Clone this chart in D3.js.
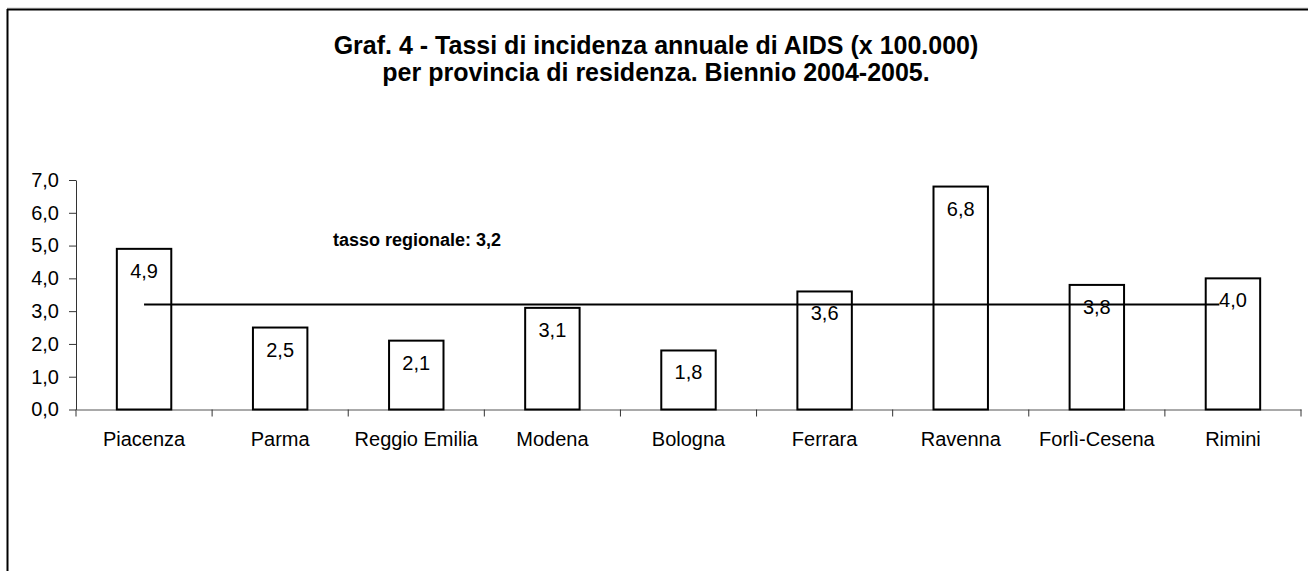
<!DOCTYPE html>
<html>
<head>
<meta charset="utf-8">
<script src="https://cdn.jsdelivr.net/npm/d3@7"></script>
<style>
  body { margin: 0; background: #fff; }
  svg { display: block; font-family: "Liberation Sans", Arial, sans-serif; }
</style>
</head>
<body>
<svg id="chart" width="1308" height="571"></svg>
<script>
// dati
var province = ["Piacenza", "Parma", "Reggio Emilia", "Modena", "Bologna", "Ferrara", "Ravenna", "Forlì-Cesena", "Rimini"];
var tassi = [4.9, 2.5, 2.1, 3.1, 1.8, 3.6, 6.8, 3.8, 4.0];
var tassoRegionale = 3.2;
var yTicks = [0, 1, 2, 3, 4, 5, 6, 7];
var titolo = ["Graf. 4 - Tassi di incidenza annuale di AIDS (x 100.000)",
              "per provincia di residenza. Biennio 2004-2005."];

var it = d3.formatLocale({decimal: ",", thousands: ".", grouping: [3], currency: ["", "€"]});
var fmt = it.format(".1f");

var svg = d3.select("#chart");

// cornice
svg.append("line").attr("x1", 7).attr("x2", 1308).attr("y1", 8).attr("y2", 8)
    .attr("stroke", "#d0d0d0").attr("stroke-width", 1);
svg.append("line").attr("x1", 7).attr("x2", 1308).attr("y1", 9.5).attr("y2", 9.5)
    .attr("stroke", "#000").attr("stroke-width", 2);
svg.append("line").attr("x1", 7.5).attr("x2", 7.5).attr("y1", 9).attr("y2", 571)
    .attr("stroke", "#000").attr("stroke-width", 2);

// titolo
svg.append("text")
    .attr("x", 656).attr("y", 54)
    .attr("text-anchor", "middle")
    .attr("font-weight", "bold").attr("font-size", 25)
    .selectAll("tspan").data(titolo).join("tspan")
    .attr("x", 656).attr("dy", function(d, i) { return i ? 27 : 0; })
    .text(function(d) { return d; });

var x = d3.scaleBand().domain(province).range([76, 1301]).paddingInner(0.6).paddingOuter(0.3);
var y = d3.scaleLinear().domain([0, 7]).range([409.5, 180]);

// asse y
var yAxis = svg.append("g").attr("transform", "translate(76,0)")
    .call(d3.axisLeft(y).tickValues(yTicks).tickFormat(fmt).tickSize(7).tickSizeOuter(0).tickPadding(10));
yAxis.select(".domain").attr("stroke", "#333");
yAxis.selectAll(".tick line").attr("stroke", "#333");
yAxis.selectAll("text").attr("font-size", 20).attr("font-family", "Liberation Sans, Arial, sans-serif").attr("fill", "#000");

// asse x
var xAxis = svg.append("g").attr("transform", "translate(0," + y(0) + ")")
    .call(d3.axisBottom(x).tickSize(0).tickSizeOuter(0).tickPadding(22));
xAxis.select(".domain").attr("stroke", "#555");
xAxis.selectAll("text").attr("font-size", 20).attr("font-family", "Liberation Sans, Arial, sans-serif").attr("fill", "#000");

// tacche tra le categorie
var confini = d3.range(province.length + 1).map(function(i) { return x.range()[0] + i * x.step(); });
svg.append("g").selectAll("line").data(confini).join("line")
    .attr("x1", function(d) { return d; }).attr("x2", function(d) { return d; })
    .attr("y1", y(0)).attr("y2", y(0) + 7)
    .attr("stroke", "#333").attr("stroke-width", 1);

// barre
svg.append("g").selectAll("rect").data(tassi).join("rect")
    .attr("x", function(d, i) { return x(province[i]); })
    .attr("y", function(d) { return y(d); })
    .attr("width", x.bandwidth())
    .attr("height", function(d) { return y(0) - y(d); })
    .attr("fill", "#fff").attr("stroke", "#000").attr("stroke-width", 2);

// etichette valori
svg.append("g").selectAll("text").data(tassi).join("text")
    .attr("x", function(d, i) { return x(province[i]) + x.bandwidth() / 2; })
    .attr("y", function(d) { return y(d) + 29; })
    .attr("text-anchor", "middle").attr("font-size", 20)
    .text(function(d) { return fmt(d); });

// linea tasso regionale
var primo = x(province[0]) + x.bandwidth() / 2;
var ultimo = x(province[province.length - 1]) + x.bandwidth() / 2 - x.step() * 0.1;
svg.append("line")
    .attr("x1", primo).attr("x2", ultimo)
    .attr("y1", y(tassoRegionale)).attr("y2", y(tassoRegionale))
    .attr("stroke", "#000").attr("stroke-width", 2);

svg.append("text")
    .attr("x", 333).attr("y", 246)
    .attr("font-weight", "bold").attr("font-size", 18)
    .text("tasso regionale: " + fmt(tassoRegionale));
</script>
</body>
</html>
